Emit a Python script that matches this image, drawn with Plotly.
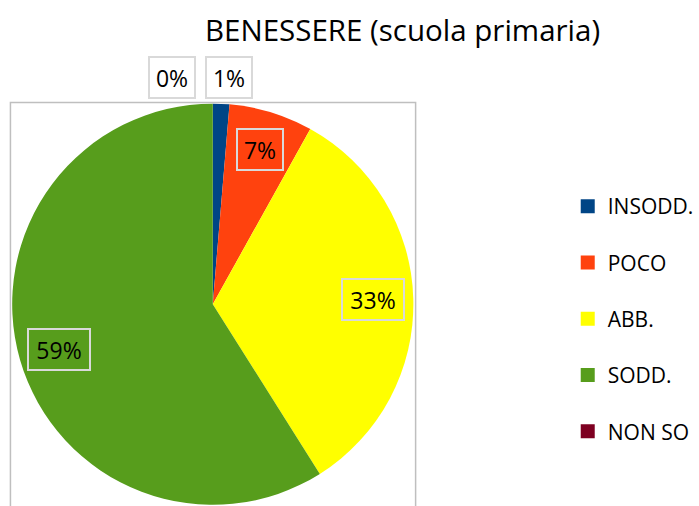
import math
import plotly.graph_objects as go

# ---- data ----
title_text = "BENESSERE (scuola primaria)"
categories = ["INSODD.", "POCO", "ABB.", "SODD.", "NON SO"]
values = [1.33, 6.75, 32.96, 58.96, 0.0]
colors = ["#004586", "#ff420e", "#ffff00", "#579d1c", "#7e0021"]

# ---- layout constants (pixels) ----
W, H = 699, 506
CX, CY, R = 214.0, 304.25, 201.75
FONT = "Open Sans"

def px2paper(x, y):
    return x / W, 1 - y / H

fig = go.Figure()

fig.add_trace(go.Pie(
    labels=categories,
    values=values,
    marker=dict(colors=colors, line=dict(width=0)),
    sort=False,
    direction="clockwise",
    rotation=0,
    textinfo="none",
    hoverinfo="label+percent",
    showlegend=False,
    domain=dict(x=[(CX - R) / W, (CX + R) / W], y=[0, (H - (CY - R)) / H]),
))

# legend entries (square markers), one group per category for spacing
for cat, col in zip(categories, colors):
    fig.add_trace(go.Scatter(
        x=[None], y=[None], mode="markers", name=cat,
        marker=dict(symbol="square", size=14, color=col),
        legendgroup=cat, showlegend=True, hoverinfo="skip",
    ))

# data labels in boxes, placed from the slice angles
total = sum(values)
cum = 0.0
annotations = []
for cat, v in zip(categories, values):
    frac = v / total
    mid = (cum + frac / 2) * 2 * math.pi
    cum += frac
    pct = f"{round(frac * 100):.0f}%"
    if frac >= 0.03:
        k = 0.8
        xa, xs = "center", 0
    else:
        k = 1.124
        xa = "left" if math.sin(mid) > 1e-9 else "right"
        xs = -17
    px = CX + k * R * math.sin(mid)
    py = CY - k * R * math.cos(mid)
    ax, ay = px2paper(px, py)
    annotations.append(dict(
        x=ax, y=ay, xref="paper", yref="paper", text=pct, showarrow=False,
        xanchor=xa, yanchor="middle", xshift=xs,
        width=16 * len(pct) + 4, height=31, align="center", valign="middle",
        font=dict(family=FONT, size=23, color="#000000"),
        bordercolor="#d9d9d9", borderwidth=2, borderpad=4,
    ))

annotations.append(dict(
    x=405 / W, y=1 - 29 / H, xref="paper", yref="paper", text=title_text,
    showarrow=False, xanchor="center", yanchor="middle",
    font=dict(family=FONT, size=29.5, color="#000000"),
))

fig.update_layout(
    width=W, height=H,
    margin=dict(l=0, r=0, t=0, b=0),
    paper_bgcolor="white", plot_bgcolor="white",
    xaxis=dict(visible=False), yaxis=dict(visible=False),
    annotations=annotations,
    shapes=[dict(type="rect", xref="paper", yref="paper",
                 x0=10.5 / W, x1=418 / W, y0=-0.02, y1=1 - 102.5 / H,
                 line=dict(color="#bfbfbf", width=1.5), fillcolor="rgba(0,0,0,0)",
                 layer="below")],
    legend=dict(x=571 / W, y=1 - 186 / H, xanchor="left", yanchor="top",
                font=dict(family=FONT, size=21, color="#000000"),
                tracegroupgap=26, bgcolor="rgba(0,0,0,0)"),
    showlegend=True,
)

fig.write_html("out.html",
               config={"displayModeBar": False},
               post_script="document.body.style.margin='0';document.body.style.overflow='hidden';")
